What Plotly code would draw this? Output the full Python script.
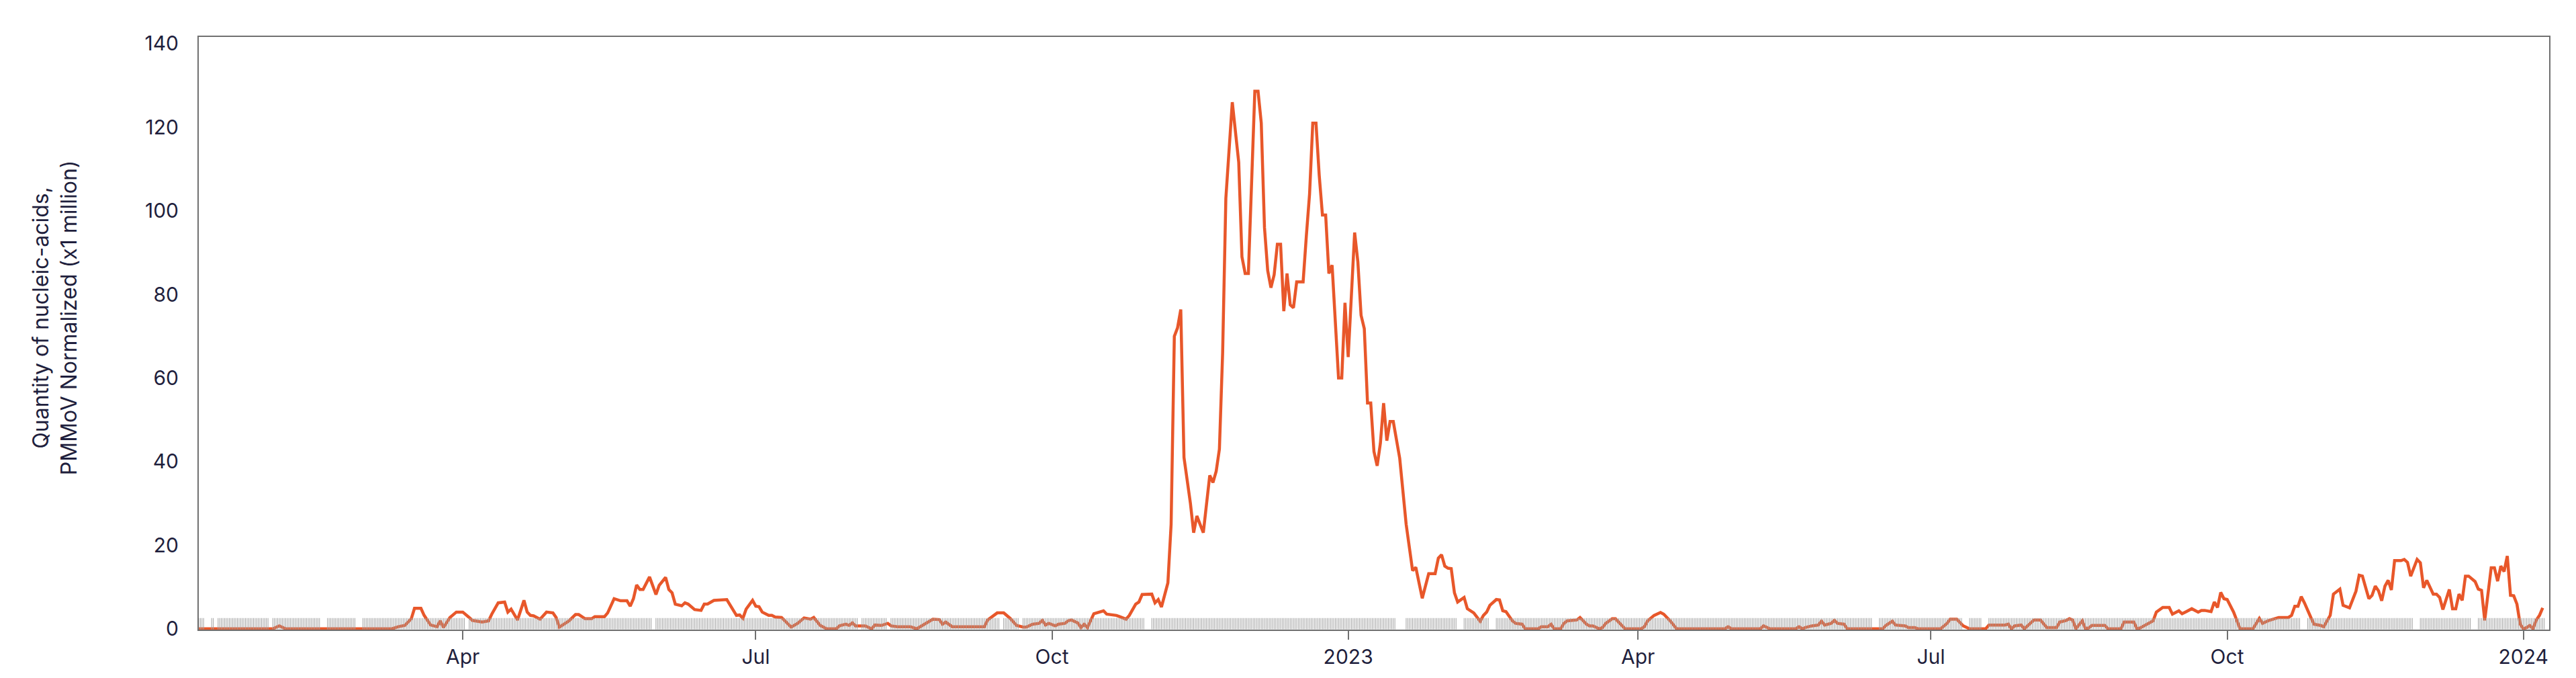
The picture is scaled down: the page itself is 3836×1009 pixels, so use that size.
import pandas as pd
import plotly.graph_objects as go

# sample dates and PMMoV-normalized quantity (x1 million)
dates_2022 = [
    "2022-01-09", "2022-02-01", "2022-02-03", "2022-02-05", "2022-03-10", "2022-03-12",
    "2022-03-14", "2022-03-16", "2022-03-17", "2022-03-19", "2022-03-20", "2022-03-22",
    "2022-03-24", "2022-03-25", "2022-03-26", "2022-03-28", "2022-03-30", "2022-04-01",
    "2022-04-03", "2022-04-04", "2022-04-07", "2022-04-09", "2022-04-10", "2022-04-12",
    "2022-04-14", "2022-04-15", "2022-04-16", "2022-04-18", "2022-04-20", "2022-04-21",
    "2022-04-22", "2022-04-23", "2022-04-25", "2022-04-27", "2022-04-29", "2022-04-30",
    "2022-05-01", "2022-05-04", "2022-05-06", "2022-05-07", "2022-05-09", "2022-05-11",
    "2022-05-12", "2022-05-15", "2022-05-16", "2022-05-18", "2022-05-20", "2022-05-22",
    "2022-05-23", "2022-05-24", "2022-05-25", "2022-05-26", "2022-05-27", "2022-05-29",
    "2022-05-31", "2022-06-01", "2022-06-03", "2022-06-04", "2022-06-05", "2022-06-06",
    "2022-06-08", "2022-06-09", "2022-06-10", "2022-06-12", "2022-06-14", "2022-06-15",
    "2022-06-16", "2022-06-18", "2022-06-22", "2022-06-24", "2022-06-25", "2022-06-26",
    "2022-06-27", "2022-06-28", "2022-06-30", "2022-07-01", "2022-07-02", "2022-07-03",
    "2022-07-05", "2022-07-06", "2022-07-07", "2022-07-09", "2022-07-10", "2022-07-12",
    "2022-07-14", "2022-07-16", "2022-07-18", "2022-07-19", "2022-07-21", "2022-07-23",
    "2022-07-26", "2022-07-27", "2022-07-29", "2022-07-30", "2022-07-31", "2022-08-01",
    "2022-08-04", "2022-08-06", "2022-08-07", "2022-08-09", "2022-08-11", "2022-08-12",
    "2022-08-14", "2022-08-18", "2022-08-20", "2022-08-21", "2022-08-23", "2022-08-25",
    "2022-08-27", "2022-08-28", "2022-08-29", "2022-08-31", "2022-09-10", "2022-09-11",
    "2022-09-14", "2022-09-16", "2022-09-18", "2022-09-20", "2022-09-22", "2022-09-23",
    "2022-09-25", "2022-09-27", "2022-09-28", "2022-09-29", "2022-09-30", "2022-10-02",
    "2022-10-03", "2022-10-05", "2022-10-06", "2022-10-07", "2022-10-09", "2022-10-10",
    "2022-10-11", "2022-10-12", "2022-10-14", "2022-10-17", "2022-10-18", "2022-10-21",
    "2022-10-22", "2022-10-24", "2022-10-25", "2022-10-27", "2022-10-28", "2022-10-29",
    "2022-11-01", "2022-11-02", "2022-11-03", "2022-11-04", "2022-11-06", "2022-11-07",
    "2022-11-08", "2022-11-09", "2022-11-10", "2022-11-11", "2022-11-13", "2022-11-14",
    "2022-11-15", "2022-11-17", "2022-11-19", "2022-11-20", "2022-11-21", "2022-11-22",
    "2022-11-23", "2022-11-24", "2022-11-26", "2022-11-28", "2022-11-29", "2022-11-30",
    "2022-12-01", "2022-12-02", "2022-12-03", "2022-12-04", "2022-12-05", "2022-12-06",
    "2022-12-07", "2022-12-08", "2022-12-09", "2022-12-10", "2022-12-11", "2022-12-12",
    "2022-12-13", "2022-12-14", "2022-12-15", "2022-12-16", "2022-12-18", "2022-12-19",
    "2022-12-20", "2022-12-21", "2022-12-22", "2022-12-23", "2022-12-24", "2022-12-25",
    "2022-12-26", "2022-12-27", "2022-12-29", "2022-12-30", "2022-12-31",
]
values_2022 = [
    0, 0, 0.7, 0, 0, 0.5,
    0.8, 2.4, 4.9, 4.9, 3.2, 0.9,
    0.5, 1.9, 0.3, 2.7, 4.0, 4.0,
    2.7, 2.0, 1.6, 1.9, 3.5, 6.2,
    6.4, 4.0, 4.7, 2.1, 6.8, 4.0,
    3.2, 3.1, 2.3, 4.0, 3.8, 2.7,
    0.4, 1.9, 3.4, 3.4, 2.4, 2.4,
    2.9, 2.9, 3.8, 7.2, 6.7, 6.7,
    5.4, 7.2, 10.5, 9.4, 9.4, 12.4,
    8.2, 10.4, 12.3, 9.4, 8.6, 5.9,
    5.5, 6.2, 5.9, 4.6, 4.4, 5.9,
    5.9, 6.8, 7.0, 4.6, 3.2, 3.3,
    2.5, 4.7, 6.8, 5.4, 5.3, 4.0,
    3.2, 3.2, 2.8, 2.7, 1.9, 0.4,
    1.3, 2.6, 2.3, 2.7, 0.8, 0,
    0, 0.7, 1.1, 0.8, 1.4, 0.7,
    0.7, 0, 0.9, 0.8, 1.3, 0.7,
    0.5, 0.5, 0, 0.5, 1.3, 2.3,
    2.2, 1.1, 1.6, 0.5, 0.5, 2.1,
    3.8, 3.8, 2.5, 0.8, 0.4, 0.4,
    1.1, 1.3, 2.0, 0.9, 1.3, 0.7,
    1.1, 1.3, 1.9, 2.1, 1.4, 0.3,
    1.1, 0.3, 3.6, 4.3, 3.5, 3.2,
    2.9, 2.3, 3.2, 5.9, 6.4, 8.2,
    8.3, 6.2, 7.0, 5.2, 11.0, 25,
    70, 72, 76.4, 41, 30, 23,
    27, 23, 36.7, 35, 37.7, 43,
    66, 103, 126, 111.6, 89, 85,
    85, 105, 128.6, 128.6, 121, 96,
    85.7, 81.6, 84.7, 92, 92, 76,
    85, 77.5, 76.8, 83, 83, 94,
    104, 121, 121, 108.5, 99, 99,
    85, 87, 60, 60, 78,
]

dates_2023 = [
    "2023-01-01", "2023-01-03", "2023-01-04", "2023-01-05", "2023-01-06", "2023-01-07",
    "2023-01-08", "2023-01-09", "2023-01-10", "2023-01-11", "2023-01-12", "2023-01-13",
    "2023-01-14", "2023-01-15", "2023-01-17", "2023-01-19", "2023-01-21", "2023-01-22",
    "2023-01-24", "2023-01-26", "2023-01-28", "2023-01-29", "2023-01-30", "2023-01-31",
    "2023-02-01", "2023-02-02", "2023-02-03", "2023-02-04", "2023-02-06", "2023-02-07",
    "2023-02-09", "2023-02-11", "2023-02-12", "2023-02-13", "2023-02-14", "2023-02-16",
    "2023-02-17", "2023-02-18", "2023-02-19", "2023-02-21", "2023-02-22", "2023-02-24",
    "2023-02-25", "2023-03-01", "2023-03-02", "2023-03-04", "2023-03-05", "2023-03-06",
    "2023-03-08", "2023-03-09", "2023-03-10", "2023-03-13", "2023-03-14", "2023-03-16",
    "2023-03-17", "2023-03-18", "2023-03-20", "2023-03-21", "2023-03-22", "2023-03-24",
    "2023-03-25", "2023-03-27", "2023-03-28", "2023-04-02", "2023-04-03", "2023-04-04",
    "2023-04-06", "2023-04-08", "2023-04-09", "2023-04-11", "2023-04-13", "2023-04-28",
    "2023-04-29", "2023-04-30", "2023-05-09", "2023-05-10", "2023-05-12", "2023-05-20",
    "2023-05-21", "2023-05-22", "2023-05-23", "2023-05-25", "2023-05-27", "2023-05-28",
    "2023-05-29", "2023-05-31", "2023-06-01", "2023-06-02", "2023-06-04", "2023-06-05",
    "2023-06-16", "2023-06-17", "2023-06-19", "2023-06-20", "2023-06-22", "2023-06-23",
    "2023-06-24", "2023-06-26", "2023-06-27", "2023-07-04", "2023-07-06", "2023-07-07",
    "2023-07-09", "2023-07-11", "2023-07-13", "2023-07-18", "2023-07-19", "2023-07-24",
    "2023-07-25", "2023-07-26", "2023-07-27", "2023-07-29", "2023-07-30", "2023-08-01",
    "2023-08-02", "2023-08-04", "2023-08-05", "2023-08-06", "2023-08-09", "2023-08-10",
    "2023-08-12", "2023-08-13", "2023-08-14", "2023-08-15", "2023-08-17", "2023-08-18",
    "2023-08-19", "2023-08-20", "2023-08-24", "2023-08-25", "2023-08-29", "2023-08-30",
    "2023-09-02", "2023-09-03", "2023-09-04", "2023-09-07", "2023-09-08", "2023-09-09",
    "2023-09-11", "2023-09-13", "2023-09-14", "2023-09-16", "2023-09-17", "2023-09-18",
    "2023-09-20", "2023-09-22", "2023-09-23", "2023-09-24", "2023-09-26", "2023-09-27",
    "2023-09-28", "2023-09-29", "2023-09-30", "2023-10-01", "2023-10-02", "2023-10-03",
    "2023-10-05", "2023-10-09", "2023-10-11", "2023-10-12", "2023-10-14", "2023-10-16",
    "2023-10-17", "2023-10-20", "2023-10-21", "2023-10-22", "2023-10-23", "2023-10-24",
    "2023-10-25", "2023-10-27", "2023-10-28", "2023-10-30", "2023-10-31", "2023-11-02",
    "2023-11-03", "2023-11-05", "2023-11-06", "2023-11-08", "2023-11-10", "2023-11-11",
    "2023-11-12", "2023-11-14", "2023-11-15", "2023-11-16", "2023-11-17", "2023-11-18",
    "2023-11-19", "2023-11-20", "2023-11-21", "2023-11-22", "2023-11-24", "2023-11-25",
    "2023-11-26", "2023-11-27", "2023-11-29", "2023-11-30", "2023-12-01", "2023-12-02",
    "2023-12-04", "2023-12-05", "2023-12-06", "2023-12-07", "2023-12-09", "2023-12-10",
    "2023-12-11", "2023-12-12", "2023-12-13", "2023-12-14", "2023-12-15", "2023-12-17",
    "2023-12-18", "2023-12-19", "2023-12-20", "2023-12-22", "2023-12-23", "2023-12-24",
    "2023-12-25", "2023-12-26", "2023-12-27", "2023-12-28", "2023-12-29", "2023-12-30",
    "2023-12-31", "2024-01-01", "2024-01-02", "2024-01-03", "2024-01-04", "2024-01-05",
    "2024-01-06", "2024-01-07",
]
values_2023 = [
    65, 94.8, 87.8, 75, 71.8, 54,
    54, 42.4, 39, 44.4, 54, 45,
    49.6, 49.6, 40.8, 25, 13.9, 14.7,
    7.3, 13.2, 13.2, 16.9, 17.7, 15,
    14.5, 14.4, 8.6, 6.4, 7.5, 4.8,
    3.8, 1.8, 3.2, 4.0, 5.6, 7.0,
    6.9, 4.3, 4.1, 1.9, 1.3, 1.1,
    0, 0, 0.5, 0.5, 1.1, 0,
    0, 1.3, 1.9, 2.1, 2.7, 1.1,
    0.7, 0.7, 0, 0.3, 1.3, 2.4,
    2.4, 0.8, 0, 0, 0.5, 1.9,
    3.2, 3.9, 3.5, 1.9, 0, 0,
    0.5, 0, 0, 0.7, 0, 0,
    0.5, 0, 0.3, 0.7, 0.9, 1.8,
    0.9, 1.3, 2.0, 1.3, 1.1, 0,
    0, 0.8, 1.8, 0.9, 0.7, 0.7,
    0.3, 0.3, 0, 0, 1.3, 2.3,
    2.3, 0.7, 0, 0, 0.9, 0.9,
    1.1, 0, 0.7, 0.9, 0, 1.5,
    2.1, 2.1, 1.3, 0.3, 0.3, 1.6,
    2.0, 2.4, 2.1, 0, 1.9, 0,
    0.2, 0.8, 0.8, 0, 0, 1.6,
    1.6, 0, 0.2, 1.6, 1.9, 4.0,
    5.1, 5.1, 3.5, 4.3, 3.6, 4.0,
    4.8, 4.0, 4.4, 4.4, 4.1, 6.4,
    5.1, 8.7, 7.2, 7.0, 5.4, 4.0,
    0, 0, 2.5, 1.3, 2.0, 2.4,
    2.7, 2.7, 3.2, 5.4, 5.4, 7.7,
    6.2, 2.7, 1.1, 0.8, 0.5, 3.2,
    8.3, 9.5, 5.6, 5.0, 9.0, 12.8,
    12.6, 7.2, 8.0, 10.2, 9.1, 6.7,
    10.2, 11.6, 9.3, 16.3, 16.3, 16.6,
    15.9, 12.6, 16.6, 15.8, 9.8, 11.6,
    8.3, 8.3, 7.5, 4.6, 9.4, 4.8,
    4.8, 8.3, 6.8, 12.6, 12.6, 11.3,
    9.5, 9.2, 2.0, 14.6, 14.6, 11.4,
    15.0, 13.7, 17.4, 8.0, 7.9, 5.9,
    1.1, 0, 0.3, 0.8, 0, 2.1,
    3.2, 5.0,
]

# sampling periods shown as the grey rug along the bottom (12-hourly samples)
rug_start = "2022-01-09"
rug_end = "2024-01-07"
rug_gaps = [
    ("2022-01-11", "2022-01-12"), ("2022-01-14", "2022-01-14"), ("2022-01-31", "2022-01-31"),
    ("2022-02-16", "2022-02-17"), ("2022-02-27", "2022-02-28"), ("2022-04-02", "2022-04-02"),
    ("2022-05-30", "2022-05-30"), ("2022-08-02", "2022-08-02"), ("2022-08-11", "2022-08-11"),
    ("2022-09-15", "2022-09-15"), ("2022-09-21", "2022-09-21"), ("2022-10-30", "2022-10-31"),
    ("2023-01-16", "2023-01-18"), ("2023-02-04", "2023-02-05"), ("2023-02-14", "2023-02-15"),
    ("2023-06-13", "2023-06-14"), ("2023-07-11", "2023-07-12"), ("2023-07-17", "2023-07-18"),
    ("2023-10-24", "2023-10-25"), ("2023-11-28", "2023-11-29"), ("2023-12-16", "2023-12-17"),
]

tick_dates = ["2022-04-01", "2022-07-01", "2022-10-01", "2023-01-01",
              "2023-04-01", "2023-07-01", "2023-10-01", "2024-01-01"]
tick_labels = ["Apr", "Jul", "Oct", "2023", "Apr", "Jul", "Oct", "2024"]
y_ticks = [0, 20, 40, 60, 80, 100, 120, 140]

rug = pd.Series(pd.date_range(rug_start, rug_end + " 12:00", freq="12h"))
keep = pd.Series(True, index=rug.index)
for a, b in rug_gaps:
    day = rug.dt.normalize()
    keep &= ~((day >= pd.Timestamp(a)) & (day <= pd.Timestamp(b)))
rug = rug[keep]

text_color = "#1f1f3d"
frame_color = "#707070"

fig = go.Figure()
fig.add_trace(go.Scatter(
    x=rug, y=[1] * len(rug), yaxis="y2", mode="markers",
    marker=dict(symbol="line-ns", size=12, line=dict(width=1, color="#a3a3a3")),
    hoverinfo="skip", showlegend=False,
))
fig.add_trace(go.Scatter(
    x=dates_2022 + dates_2023, y=values_2022 + values_2023, mode="lines",
    line=dict(color="#E8572A", width=4.5), showlegend=False,
))

fig.update_layout(
    width=3836, height=1009, autosize=False,
    margin=dict(l=288, r=48, t=47, b=80),
    paper_bgcolor="white", plot_bgcolor="white",
    font=dict(family="Inter, Lato, sans-serif", size=30, color=text_color),
    xaxis=dict(
        type="date", range=["2022-01-09", "2024-01-09"],
        tickvals=tick_dates, ticktext=tick_labels,
        ticks="outside", ticklen=13, tickwidth=2, tickcolor=frame_color,
        showline=True, linecolor=frame_color, linewidth=2, mirror=True,
        showgrid=False, zeroline=False, layer="below traces",
        tickfont=dict(size=30, color=text_color),
    ),
    yaxis=dict(
        range=[-0.2, 141.6], tickvals=y_ticks, ticks="",
        showline=True, linecolor=frame_color, linewidth=2, mirror=True,
        showgrid=False, zeroline=False, layer="below traces",
        ticklabelstandoff=22, tickfont=dict(size=30, color=text_color),
    ),
    yaxis2=dict(overlaying="y", range=[0, 100], visible=False, fixedrange=True),
    annotations=[dict(
        text="Quantity of nucleic-acids,<br>PMMoV Normalized (x1 million)",
        xref="paper", yref="paper", x=-0.0614, y=0.526,
        xanchor="center", yanchor="middle", textangle=-90, showarrow=False,
        align="center", font=dict(size=32, color=text_color),
    )],
)

fig.write_html("out.html")
